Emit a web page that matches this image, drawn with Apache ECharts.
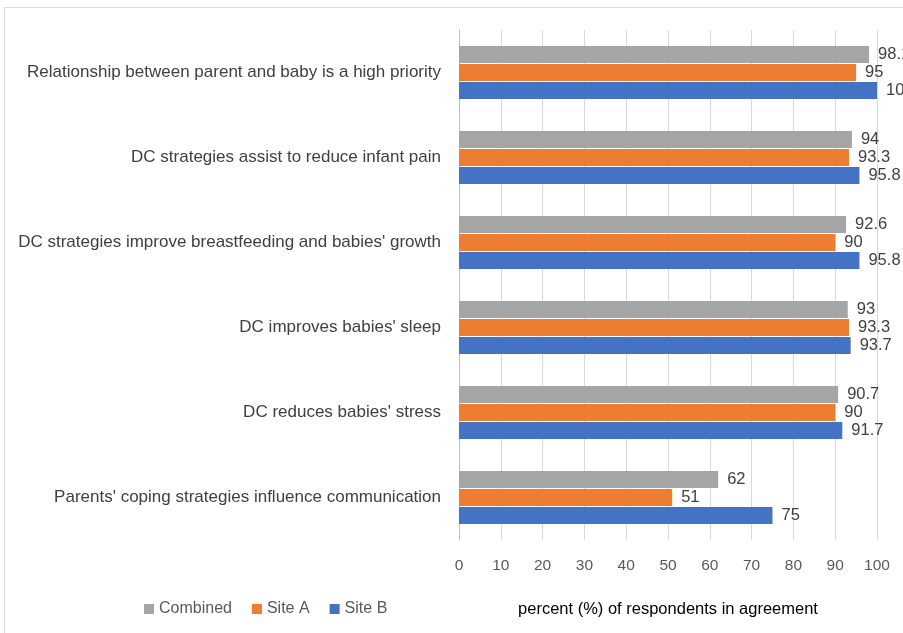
<!DOCTYPE html>
<html><head><meta charset="utf-8">
<script src="https://cdn.jsdelivr.net/npm/echarts@6/dist/echarts.min.js"></script>
<style>html,body{margin:0;padding:0;background:#fff}#c{width:903px;height:633px}</style>
</head><body><div id="c"></div>
<script>
var categories = [
  "Parents' coping strategies influence communication",
  "DC reduces babies' stress",
  "DC improves babies' sleep",
  "DC strategies improve breastfeeding and babies' growth",
  "DC strategies assist to reduce infant pain",
  "Relationship between parent and baby is a high priority"
];
var combined = [62, 90.7, 93, 92.6, 94, 98.1];
var siteA = [51, 90, 93.3, 90, 93.3, 95];
var siteB = [75, 91.7, 93.7, 95.8, 95.8, 100];
var xTicks = [0, 10, 20, 30, 40, 50, 60, 70, 80, 90, 100];

var FONT = "Liberation Sans";
var chart = echarts.init(document.getElementById('c'));
function mk(name, data, color) {
  return {
    name: name, type: 'bar', data: data, barWidth: 17, barGap: '6%',
    itemStyle: { color: color },
    label: { show: true, position: 'right', distance: 9, color: '#404040', fontSize: 16.5, fontFamily: FONT },
    animation: false
  };
}
chart.setOption({
  animation: false,
  textStyle: { fontFamily: FONT },
  graphic: [{ type: 'rect', shape: { x: 4.5, y: 7.5, width: 920, height: 640 }, style: { fill: 'none', stroke: '#d9d9d9', lineWidth: 1 }, z: -1 }],
  grid: { left: 459, right: 26, top: 30, bottom: 93, containLabel: false },
  legend: {
    data: ['Combined', 'Site A', 'Site B'], left: 139, top: 596,
    itemWidth: 10, itemHeight: 10, itemGap: 20, icon: 'rect',
    textStyle: { color: '#595959', fontSize: 16, fontFamily: FONT }
  },
  xAxis: {
    type: 'value', min: 0, max: 100, interval: 10,
    name: 'percent (%) of respondents in agreement', nameLocation: 'middle', nameGap: 61,
    nameTextStyle: { color: '#000', fontSize: 16.5, fontFamily: FONT },
    axisLabel: { color: '#595959', fontSize: 15.5, margin: 18, fontFamily: FONT,
      formatter: function (v) { return xTicks.indexOf(v) >= 0 ? String(v) : ''; } },
    axisLine: { show: false }, axisTick: { show: false },
    splitLine: { lineStyle: { color: '#d9d9d9', width: 1 } }
  },
  yAxis: {
    type: 'category', data: categories,
    axisLine: { show: true, lineStyle: { color: '#bfbfbf' } }, axisTick: { show: false },
    axisLabel: { color: '#404040', fontSize: 17, margin: 18, fontFamily: FONT }
  },
  series: [mk('Combined', combined, '#A5A5A5'), mk('Site A', siteA, '#ED7D31'), mk('Site B', siteB, '#4472C4')]
});
</script></body></html>
